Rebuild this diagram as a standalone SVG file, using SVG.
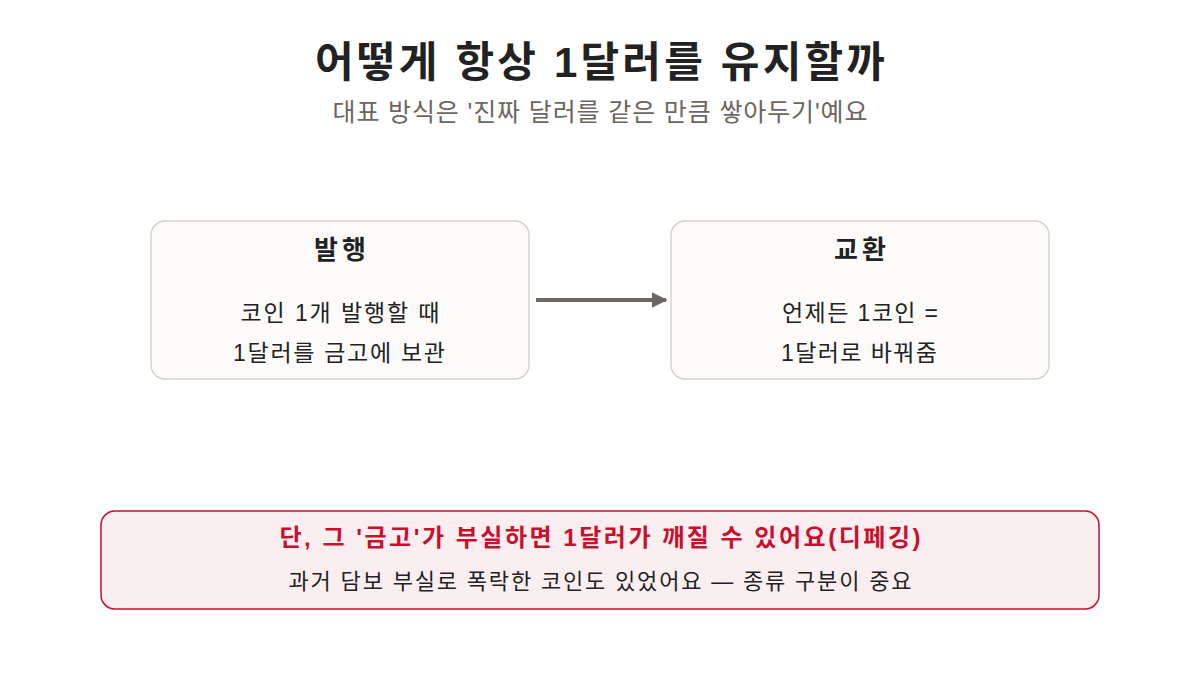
<svg xmlns="http://www.w3.org/2000/svg" width="1200" height="675" viewBox="0 0 1200 675">
<style>
text{font-family:"Liberation Sans","Noto Sans CJK KR",sans-serif;text-anchor:middle}
.title{font-size:42px;font-weight:bold;fill:#222}
.sub{font-size:25px;fill:#6b6660}
.box{fill:#fcfbf9;stroke:#d9d4cc;stroke-width:1.5}
.bt{font-size:26px;font-weight:bold;fill:#222}
.bl{font-size:23px;fill:#222}
.warn{fill:#fbeef0;stroke:#c8102e;stroke-width:1.5}
.wt{font-size:24px;font-weight:bold;fill:#c8102e}
.wl{font-size:22px;fill:#222}
</style>
<defs>
<marker id="ah" viewBox="0 0 10 10" refX="9" refY="5" markerWidth="4" markerHeight="4.5" orient="auto" markerUnits="strokeWidth">
<path d="M0,0 L10,5 L0,10 z" fill="#6b6862"/>
</marker>
</defs>
<rect width="1200" height="675" fill="#ffffff"/>
<text class="title" x="600" y="77" textLength="570" lengthAdjust="spacing">어떻게 항상 1달러를 유지할까</text>
<text class="sub" x="600" y="121" textLength="535" lengthAdjust="spacing">대표 방식은 '진짜 달러를 같은 만큼 쌓아두기'예요</text>
<g id="node-issue">
<rect class="box" x="151" y="221" width="378" height="158" rx="14"/>
<text class="bt" x="340" y="259" textLength="52" lengthAdjust="spacing">발행</text>
<text class="bl" x="340" y="321" textLength="199" lengthAdjust="spacing">코인 1개 발행할 때</text>
<text class="bl" x="339" y="361" textLength="212" lengthAdjust="spacing">1달러를 금고에 보관</text>
</g>
<g id="node-exchange">
<rect class="box" x="671" y="221" width="378" height="158" rx="14"/>
<text class="bt" x="860" y="259" textLength="52" lengthAdjust="spacing">교환</text>
<text class="bl" x="860" y="321" textLength="156" lengthAdjust="spacing">언제든 1코인 =</text>
<text class="bl" x="859" y="361" textLength="156" lengthAdjust="spacing">1달러로 바꿔줌</text>
</g>
<g id="connectors">
<line x1="536" y1="300" x2="666" y2="300" stroke="#6b6862" stroke-width="4" marker-end="url(#ah)"/>
</g>
<g id="node-warning">
<rect class="warn" x="101" y="511" width="998" height="98" rx="14"/>
<text class="wt" x="600" y="546" textLength="641" lengthAdjust="spacing">단, 그 '금고'가 부실하면 1달러가 깨질 수 있어요(디페깅)</text>
<text class="wl" x="600" y="589" textLength="623" lengthAdjust="spacing">과거 담보 부실로 폭락한 코인도 있었어요 — 종류 구분이 중요</text>
</g>
</svg>
